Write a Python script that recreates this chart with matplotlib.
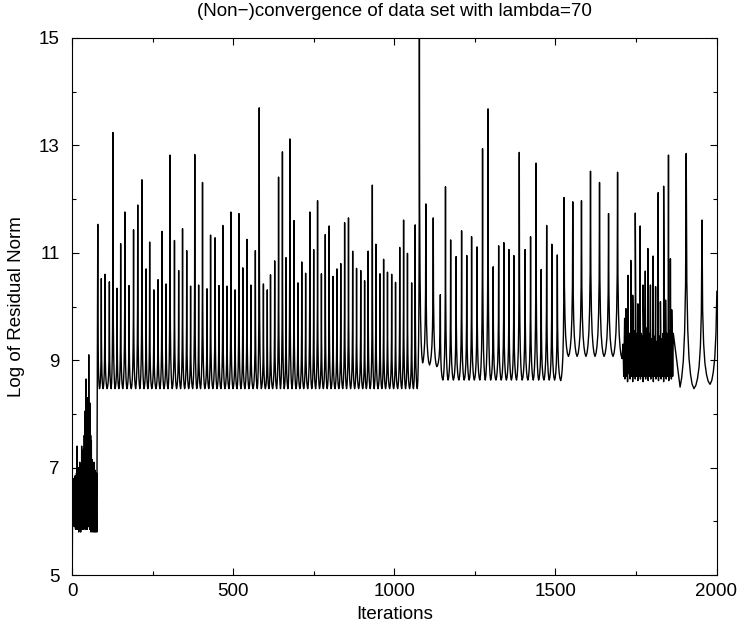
import numpy as np
import matplotlib
matplotlib.use("Agg")
import matplotlib.pyplot as plt
from matplotlib.ticker import MultipleLocator

plt.rcParams['font.family'] = ['Liberation Sans', 'DejaVu Sans']

# --- data ------------------------------------------------------------------
# first noisy stretch, one value per iteration (0..77)
early_vals = [6.6, 5.35, 6.8, 6.0, 6.75, 5.95, 6.8, 5.9, 6.7, 5.95,
              6.85, 5.85, 6.7, 5.9, 6.9, 5.85, 7.4, 5.9, 6.8, 5.85,
              7.0, 5.8, 6.85, 5.9, 7.1, 5.85, 6.9, 5.8, 7.05, 5.85,
              7.4, 5.9, 7.3, 5.85, 7.2, 5.9, 7.35, 5.85, 7.6, 5.95,
              8.05, 6.0, 7.9, 5.85, 8.65, 6.1, 8.0, 5.85, 8.3, 6.0,
              7.9, 5.9, 9.1, 6.0, 7.8, 5.85, 8.2, 5.9, 7.6, 5.8,
              7.5, 5.85, 7.15, 5.9, 6.9, 5.8, 6.95, 5.85, 7.1, 5.8,
              6.9, 5.85, 6.95, 5.8, 6.85, 5.85, 6.9, 5.8]

# regular spikes, iterations 80..1078
peaks_a_iter = [80, 91, 102, 116, 127, 140, 151, 164, 177, 191, 204, 217, 230, 241,
                254, 267, 279, 292, 304, 318, 331, 343, 356, 368, 381, 393, 405, 419,
                430, 444, 456, 468, 481, 493, 506, 518, 530, 543, 555, 569, 581, 594,
                606, 616, 629, 641, 653, 664, 676, 689, 701, 713, 725, 738, 750, 762,
                774, 786, 798, 810, 822, 834, 846, 858, 871, 883, 896, 908, 919, 932,
                943, 956, 967, 979, 992, 1004, 1017, 1029, 1041, 1054, 1065, 1078]
peaks_a_val = [11.53, 10.52, 10.60, 10.46, 13.24, 10.34, 11.17, 11.76, 10.39, 11.43,
               11.89, 12.36, 10.70, 11.20, 10.31, 10.50, 11.40, 10.42, 12.82, 11.23,
               10.67, 11.45, 11.04, 10.38, 12.83, 10.40, 12.31, 10.33, 11.33, 11.28,
               10.39, 11.51, 10.38, 11.76, 10.31, 11.73, 10.72, 11.25, 10.40, 11.04,
               13.70, 10.42, 10.31, 10.59, 10.85, 12.41, 12.88, 10.91, 13.12, 11.60,
               10.44, 10.83, 10.62, 11.76, 11.06, 11.97, 10.61, 11.34, 11.50, 10.56,
               10.70, 10.80, 11.56, 11.65, 11.03, 10.71, 10.67, 10.48, 11.03, 12.26,
               11.16, 10.61, 10.88, 10.64, 10.60, 10.45, 11.10, 11.61, 10.99, 10.44,
               11.52, 15.5]

# slower spikes, 1098..1506
peaks_b_iter = [1098, 1121, 1143, 1159, 1175, 1192, 1209, 1225, 1240, 1257, 1274,
                1291, 1307, 1324, 1340, 1356, 1371, 1388, 1406, 1423, 1440, 1456,
                1473, 1489, 1506]
peaks_b_val = [11.91, 11.65, 10.22, 12.23, 11.24, 10.93, 11.41, 10.95, 11.30, 11.11,
               12.94, 13.68, 10.74, 11.13, 11.19, 11.06, 10.95, 12.87, 11.06, 11.30,
               12.67, 10.69, 11.51, 11.16, 10.96]

# wide spikes, 1527..1693
peaks_c_iter = [1527, 1554, 1581, 1609, 1637, 1665, 1693]
peaks_c_val = [12.03, 11.95, 11.97, 12.52, 12.31, 11.73, 12.50]

# trough levels between consecutive spikes of a, b, c
troughs = ([8.47] * (len(peaks_a_iter) - 1) + [8.95, 8.91, 8.88]
           + [8.63] * (len(peaks_b_iter) - 3) + [8.62] + [9.07] * (len(peaks_c_iter) - 1))

# noisy block 1710..1866 (every 2 iterations) plus its spikes
cluster_base = [9.3, 8.7, 9.5, 8.65, 9.4, 8.7, 9.6, 8.6, 9.3, 8.75,
                9.5, 8.65, 9.45, 8.7, 9.6, 8.6, 9.35, 8.7, 9.55, 8.65,
                9.4, 8.7, 9.5, 8.62, 9.6, 8.7, 9.3, 8.65, 9.5, 8.7,
                9.45, 8.6, 9.55, 8.7, 9.4, 8.65, 9.6, 8.7, 9.35, 8.62,
                9.5, 8.7, 9.55, 8.65, 9.4, 8.7, 9.6, 8.6, 9.45, 8.7,
                9.5, 8.65, 9.35, 8.7, 9.6, 8.62, 9.45, 8.7, 9.55, 8.65,
                9.4, 8.7, 9.5, 8.6, 9.6, 8.7, 9.35, 8.65, 9.5, 8.7,
                9.45, 8.62, 9.55, 8.7, 9.4, 8.65, 9.6, 8.7, 9.5]
cluster_spike_iter = [1715, 1719, 1725, 1734, 1740, 1748, 1756, 1763, 1772, 1779, 1787,
                      1795, 1803, 1811, 1819, 1826, 1836, 1842, 1851, 1857, 1861]
cluster_spike_val = [9.78, 9.96, 10.58, 10.86, 10.21, 11.74, 10.05, 11.50, 10.40, 10.66,
                     11.08, 10.40, 10.94, 10.37, 12.12, 10.09, 12.24, 10.12, 12.82, 10.89,
                     9.94]

# last slow cycles: (iteration, value) of trough and peak
tail_trough_iter = [1707, 1881, 1930, 1980]
tail_trough_val = [9.03, 8.41, 8.47, 8.55]
peaks_d_iter = [1906, 1955, 2003]
peaks_d_val = [12.85, 11.61, 12.4]

# shape of one cycle between two spikes (relative height vs phase)
shape_phase = np.array([0, 0.04, 0.1, 0.18, 0.28, 0.38, 0.5, 0.62, 0.72, 0.82, 0.9, 0.96, 1])
shape_rel = np.array([1, 0.45, 0.25, 0.13, 0.06, 0.02, 0, 0.02, 0.06, 0.13, 0.25, 0.45, 1])


def cycle(xa, ya, xb, yb, yt, xt=None, half=None):
    if xt is None:
        xt = 0.5 * (xa + xb)
    left = shape_phase <= 0.5
    px = np.where(left, xa + shape_phase / 0.5 * (xt - xa),
                  xt + (shape_phase - 0.5) / 0.5 * (xb - xt))
    py = np.where(left, yt + shape_rel * (ya - yt), yt + shape_rel * (yb - yt))
    if half == 'left':
        return px[left], py[left]
    if half == 'right':
        return px[~left], py[~left]
    return px[:-1], py[:-1]


xs = list(range(len(early_vals)))
ys = list(early_vals)

pk_x = peaks_a_iter + peaks_b_iter + peaks_c_iter
pk_y = peaks_a_val + peaks_b_val + peaks_c_val
for i in range(len(pk_x) - 1):
    cx, cy = cycle(pk_x[i], pk_y[i], pk_x[i + 1], pk_y[i + 1], troughs[i])
    xs += list(cx)
    ys += list(cy)

# down from last wide spike into the noisy block
cx, cy = cycle(pk_x[-1], pk_y[-1], 1721, 9.5, tail_trough_val[0], xt=tail_trough_iter[0], half='left')
xs += list(cx)
ys += list(cy)

cl_x = np.concatenate([np.arange(1710, 1867, 2), cluster_spike_iter])
cl_y = np.concatenate([cluster_base, cluster_spike_val])
order = np.argsort(cl_x, kind='stable')
xs += list(cl_x[order])
ys += list(cl_y[order])

# slow cycles at the end
cx, cy = cycle(1851, 12.0, peaks_d_iter[0], peaks_d_val[0], tail_trough_val[1],
               xt=tail_trough_iter[1], half='right')
xs += list(cx[cx > 1866])
ys += list(cy[cx > 1866])
for i in range(len(peaks_d_iter) - 1):
    cx, cy = cycle(peaks_d_iter[i], peaks_d_val[i], peaks_d_iter[i + 1], peaks_d_val[i + 1],
                   tail_trough_val[i + 2], xt=tail_trough_iter[i + 2])
    xs += list(cx)
    ys += list(cy)
xs.append(peaks_d_iter[-1])
ys.append(peaks_d_val[-1])

# --- plot -------------------------------------------------------------------
fig = plt.figure(figsize=(7.38, 6.30), dpi=100)
ax = fig.add_axes([72 / 738, 1 - 575 / 630, (716.5 - 72) / 738, (575 - 38) / 630])

ax.plot(xs, ys, color='black', linewidth=1.0)

ax.set_xlim(0, 2000)
ax.set_ylim(5, 15)
ax.set_xticks([0, 500, 1000, 1500, 2000])
ax.xaxis.set_minor_locator(MultipleLocator(250))
ax.set_yticks([5, 7, 9, 11, 13, 15])
ax.yaxis.set_minor_locator(MultipleLocator(1))
ax.tick_params(which='both', direction='in', top=True, right=True, width=0.8, labelsize=13.5)
ax.tick_params(which='major', length=5)
ax.tick_params(which='minor', length=3)
ax.tick_params(axis='x', pad=6)
ax.tick_params(axis='y', pad=9)
for s in ax.spines.values():
    s.set_linewidth(0.8)

ax.set_xlabel('Iterations', fontsize=13.5, labelpad=4)
ax.set_ylabel('Log of Residual Norm', fontsize=13.5, labelpad=10)
fig.text(394 / 738, 1 - 12 / 630, '(Non\u2212)convergence of data set with lambda=70',
         ha='center', va='center', fontsize=13.5)

fig.savefig('out.png', dpi=100)
